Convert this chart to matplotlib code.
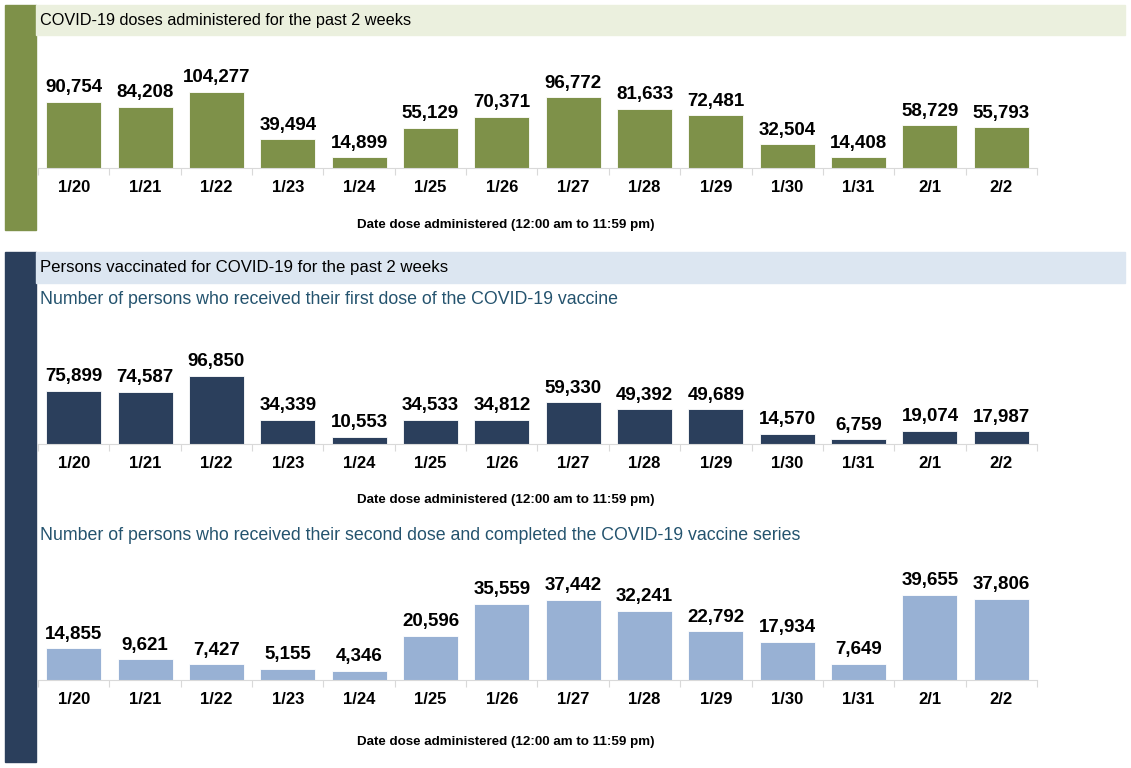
import matplotlib.pyplot as plt
from matplotlib.patches import Rectangle

plt.rcParams['font.family'] = ['Liberation Sans', 'DejaVu Sans']

dates = ['1/20', '1/21', '1/22', '1/23', '1/24', '1/25', '1/26',
         '1/27', '1/28', '1/29', '1/30', '1/31', '2/1', '2/2']
doses = [90754, 84208, 104277, 39494, 14899, 55129, 70371,
         96772, 81633, 72481, 32504, 14408, 58729, 55793]
first_dose = [75899, 74587, 96850, 34339, 10553, 34533, 34812,
              59330, 49392, 49689, 14570, 6759, 19074, 17987]
second_dose = [14855, 9621, 7427, 5155, 4346, 20596, 35559,
               37442, 32241, 22792, 17934, 7649, 39655, 37806]

W, H = 1131, 768
fig = plt.figure(figsize=(W / 100, H / 100), dpi=100)

GREEN = '#7e9149'
NAVY = '#2b3f5c'
LIGHT = '#98b1d4'
TEAL = '#24536e'
GRID = '#d9d9d9'


def px_rect(x0, y0, x1, y1):
    # pixel box (top-left origin) -> figure fraction rect
    return [x0 / W, 1 - y1 / H, (x1 - x0) / W, (y1 - y0) / H]


def box(x0, y0, x1, y1, color):
    fig.patches.append(Rectangle((x0 / W, 1 - y1 / H), (x1 - x0) / W, (y1 - y0) / H,
                                 transform=fig.transFigure, color=color, zorder=0))


def text(x, y, s, **kw):
    fig.text(x / W, 1 - y / H, s, **kw)


# side bars and header strips
box(5, 5, 36, 230, GREEN)
box(36, 5, 1125, 35, '#ebf0de')
box(5, 252, 36, 762, NAVY)
box(36, 252, 1125, 283, '#dce6f1')

text(40, 20, 'COVID-19 doses administered for the past 2 weeks', fontsize=11.7,
     va='center', ha='left')
text(40, 268, 'Persons vaccinated for COVID-19 for the past 2 weeks', fontsize=12.1,
     va='center', ha='left')
text(40, 300, 'Number of persons who received their first dose of the COVID-19 vaccine',
     fontsize=12.8, color=TEAL, va='center', ha='left')
text(40, 536, 'Number of persons who received their second dose and completed the COVID-19 vaccine series',
     fontsize=12.8, color=TEAL, va='center', ha='left')


def panel(values, top, base, ymax, color, label_y):
    ax = fig.add_axes(px_rect(38, top, 1037, base))
    x = list(range(len(dates)))
    bars = ax.bar(x, values, width=0.77, color=color, edgecolor='white', linewidth=0.6)
    ax.set_xlim(-0.5, len(dates) - 0.5)
    ax.set_ylim(0, ymax)
    for b, v in zip(bars, values):
        ax.annotate(f'{v:,}', (b.get_x() + b.get_width() / 2, v), xytext=(0, 4),
                    textcoords='offset points', ha='center', va='bottom',
                    fontsize=13.5, fontweight='bold')
    for s in ['top', 'right', 'left']:
        ax.spines[s].set_visible(False)
    ax.spines['bottom'].set_color(GRID)
    ax.set_yticks([])
    ax.set_xticks([i - 0.5 for i in range(len(dates) + 1)])
    ax.set_xticklabels([])
    ax.tick_params(axis='x', which='major', length=5, color=GRID)
    ax.set_xticks(x, minor=True)
    ax.set_xticklabels(dates, minor=True, fontsize=12, fontweight='bold')
    ax.tick_params(axis='x', which='minor', length=0, pad=9)
    text(506, label_y, 'Date dose administered (12:00 am to 11:59 pm)', fontsize=9.6,
         fontweight='bold', ha='center', va='center')
    return ax


panel(doses, 40, 168, 128 * 104277 / 76, GREEN, 225)
panel(first_dose, 315, 444, 129 * 96850 / 68, NAVY, 500)
panel(second_dose, 552, 680, 128 * 39655 / 85, LIGHT, 742)

fig.savefig('out.png', dpi=100)
